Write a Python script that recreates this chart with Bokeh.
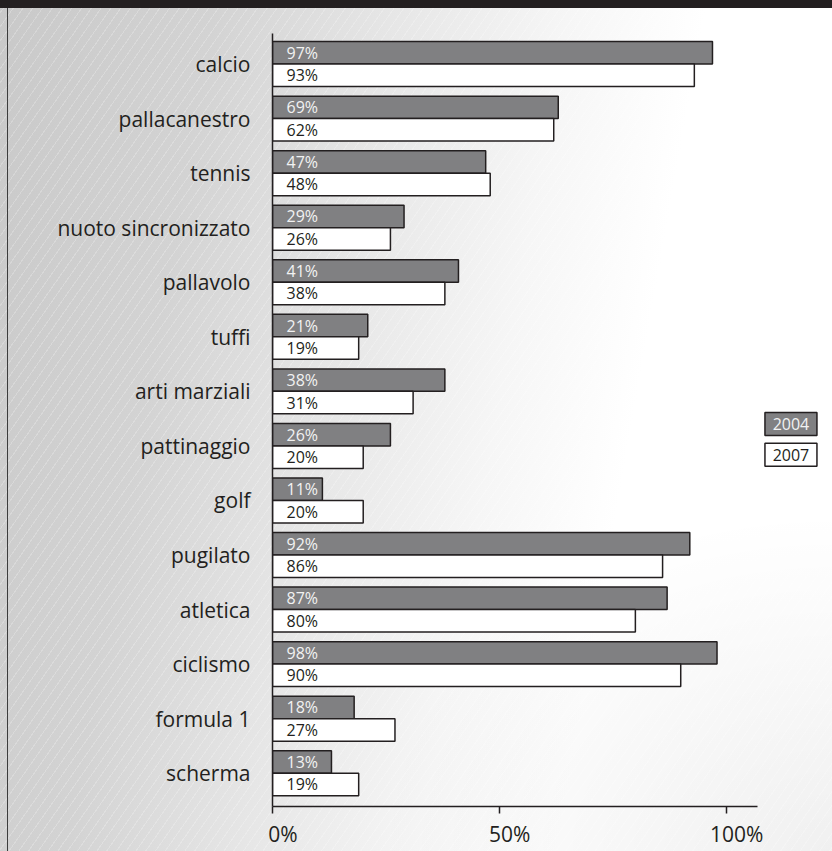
from bokeh.plotting import figure
from bokeh.models import FixedTicker, ColumnDataSource
from bokeh.core.properties import value
from bokeh.embed import file_html
from bokeh.resources import INLINE

# ---------------- data ----------------
categories = ["calcio", "pallacanestro", "tennis", "nuoto sincronizzato", "pallavolo",
              "tuffi", "arti marziali", "pattinaggio", "golf", "pugilato", "atletica",
              "ciclismo", "formula 1", "scherma"]
# bar lengths as drawn in the picture (%)
bars_2004 = [97, 63, 47, 29, 41, 21, 38, 26, 11, 92, 87, 98, 18, 13]
bars_2007 = [93, 62, 48, 26, 38, 19, 31, 20, 20, 86, 80, 90, 27, 19]
# printed labels
labels_2004 = ["97%", "69%", "47%", "29%", "41%", "21%", "38%", "26%", "11%", "92%", "87%", "98%", "18%", "13%"]
labels_2007 = ["93%", "62%", "48%", "26%", "38%", "19%", "31%", "20%", "20%", "86%", "80%", "90%", "27%", "19%"]
series_names = ["2004", "2007"]
x_ticks = [0, 50, 100]
x_tick_labels = ["0%", "50%", "100%"]

# ---------------- style ----------------
DARK = "#231f20"
BAR_GRAY = "#808082"
FONT = "Open Sans"
BAR_H = 0.412

n = len(categories)
centers = [n - 1 - i for i in range(n)]

src04 = ColumnDataSource(dict(y=[c + BAR_H / 2 for c in centers], right=bars_2004,
                              lab=labels_2004, x0=[0] * n))
src07 = ColumnDataSource(dict(y=[c - BAR_H / 2 for c in centers], right=bars_2007,
                              lab=labels_2007, x0=[0] * n))

p = figure(width=832, height=851, x_range=(0, 123.46), y_range=(-0.61, 13.56),
           min_border_left=272, min_border_right=0, min_border_top=33, min_border_bottom=45,
           output_backend="svg", toolbar_location=None,
           background_fill_color=None, border_fill_color=None, outline_line_color=None)

p.styles = {
    "background": (
        f"linear-gradient({DARK},{DARK}) 0 0 / 100% 8px no-repeat, "
        "linear-gradient(#3c3c3c,#3c3c3c) 7px 8px / 1px 100% no-repeat, "
        "repeating-linear-gradient(125deg, rgba(255,255,255,0) 0px, rgba(255,255,255,0) 7px, "
        "rgba(255,255,255,0.22) 7px, rgba(255,255,255,0.22) 8px), "
        "radial-gradient(ellipse 55% 40% at 100% 100%, rgba(0,0,0,0.06), rgba(0,0,0,0)), "
        "linear-gradient(100deg, #c9c9c9 0%, #d3d3d3 22%, #e6e6e6 40%, #f6f6f6 58%, #ffffff 72%, #ffffff 100%)"
    )
}

p.xgrid.visible = False
p.ygrid.visible = False

p.hbar(y="y", left="x0", right="right", height=BAR_H, source=src04,
       fill_color=BAR_GRAY, line_color=DARK, line_width=1.5)
p.hbar(y="y", left="x0", right="right", height=BAR_H, source=src07,
       fill_color="white", line_color=DARK, line_width=1.5)

p.text(x="x0", y="y", text="lab", source=src04, x_offset=14, text_align="left",
       text_baseline="middle", text_font=value(FONT), text_font_size="16px", text_color="#f2f2f2")
p.text(x="x0", y="y", text="lab", source=src07, x_offset=14, text_align="left",
       text_baseline="middle", text_font=value(FONT), text_font_size="16px", text_color=DARK)

# legend (boxes with text inside)
leg = ColumnDataSource(dict(x=[114.3, 114.3], y=[6.40, 5.84], name=series_names,
                            fill=[BAR_GRAY, "white"], tc=["#f2f2f2", DARK]))
p.rect(x="x", y="y", width=52, height=23, width_units="screen", height_units="screen",
       fill_color="fill", line_color=DARK, line_width=1.5, source=leg)
p.text(x="x", y="y", text="name", source=leg, text_align="center", text_baseline="middle",
       text_font=value(FONT), text_font_size="16px", text_color="tc")

# x axis
xa = p.xaxis[0]
xa.ticker = FixedTicker(ticks=x_ticks)
xa.major_label_overrides = {t: "\u2003" + l for t, l in zip(x_ticks, x_tick_labels)}
xa.bounds = (0, 106.9)
xa.axis_line_color = DARK
xa.axis_line_width = 1.5
xa.major_tick_line_color = DARK
xa.major_tick_line_width = 1.5
xa.major_tick_in = 0
xa.major_tick_out = 7
xa.minor_tick_line_color = None
xa.major_label_standoff = 6
xa.major_label_text_font = FONT
xa.major_label_text_font_size = "21px"
xa.major_label_text_color = DARK

# y axis
ya = p.yaxis[0]
ya.ticker = FixedTicker(ticks=centers)
ya.major_label_overrides = {c: name for c, name in zip(centers, categories)}
ya.axis_line_color = DARK
ya.axis_line_width = 1.5
ya.major_tick_line_color = None
ya.major_tick_in = 0
ya.major_tick_out = 0
ya.minor_tick_line_color = None
ya.major_label_standoff = 22
ya.major_label_text_font = FONT
ya.major_label_text_font_size = "21px"
ya.major_label_text_color = DARK

open("out.html", "w").write(file_html(p, INLINE))
